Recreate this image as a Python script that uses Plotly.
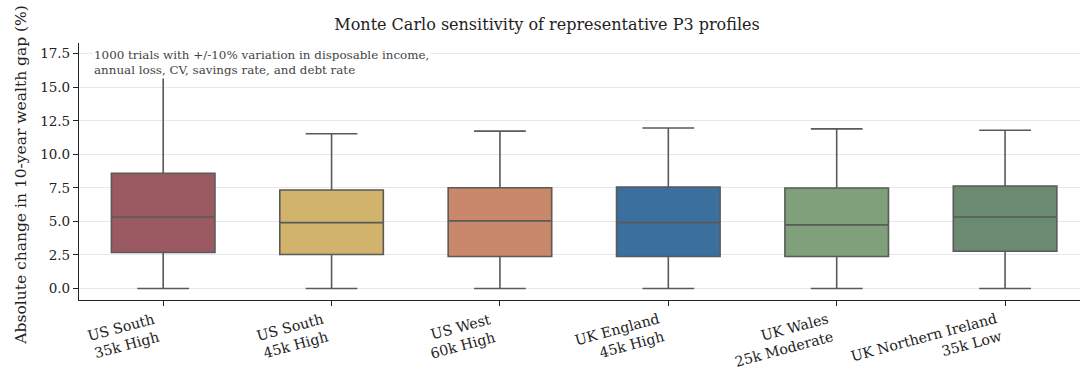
import plotly.graph_objects as go

# Profiles and Monte Carlo summary statistics (absolute change in 10-year wealth gap, %)
profiles = [
    "US South<br>35k High",
    "US South<br>45k High",
    "US West<br>60k High",
    "UK England<br>45k High",
    "UK Wales<br>25k Moderate",
    "UK Northern Ireland<br>35k Low",
]
lower_whisker = [0.0, 0.0, 0.0, 0.0, 0.0, 0.0]
q1 = [2.68, 2.53, 2.38, 2.38, 2.38, 2.78]
median = [5.33, 4.91, 5.04, 4.91, 4.74, 5.33]
q3 = [8.59, 7.34, 7.51, 7.57, 7.49, 7.64]
upper_whisker = [17.4, 11.53, 11.73, 11.96, 11.9, 11.8]
y_ticks = [0, 2.5, 5, 7.5, 10, 12.5, 15, 17.5]

colors = ["#9b5962", "#d1b36b", "#c9886a", "#3b6f9e", "#7fa07a", "#6a8a72"]
edge = "#5a5a5a"
ink = "#222222"
font_family = "DejaVu Serif"

fig = go.Figure()
for i, name in enumerate(profiles):
    fig.add_trace(go.Box(
        x=[name],
        q1=[q1[i]],
        median=[median[i]],
        q3=[q3[i]],
        lowerfence=[lower_whisker[i]],
        upperfence=[upper_whisker[i]],
        fillcolor=colors[i],
        line=dict(color=edge, width=1.6),
        width=0.615,
        whiskerwidth=0.5,
        boxpoints=False,
        showlegend=False,
        hoverinfo="skip",
    ))

# Rotated, right-aligned category labels under each tick
for name in profiles:
    fig.add_annotation(
        text=name,
        x=name, xref="x",
        y=0, yref="paper",
        xanchor="right", yanchor="top",
        yshift=-8,
        textangle=-15,
        align="right",
        showarrow=False,
        font=dict(family=font_family, size=14.2, color=ink),
    )

# Y-axis label
fig.add_annotation(
    text="Absolute change in 10-year wealth gap (%)",
    xref="paper", yref="paper",
    x=(21 - 78.5) / 1001.5, y=0.486,
    xanchor="center", yanchor="middle",
    textangle=-90,
    showarrow=False,
    font=dict(family=font_family, size=15.5, color=ink),
)

# Note on the simulation setup
fig.add_annotation(
    text="1000 trials with +/-10% variation in disposable income,<br>annual loss, CV, savings rate, and debt rate",
    xref="paper", yref="paper",
    x=0.0125, y=0.988,
    xanchor="left", yanchor="top",
    align="left",
    showarrow=False,
    font=dict(family=font_family, size=11.9, color="#444444"),
    bgcolor="white",
    borderpad=1,
)

fig.update_layout(
    width=1080, height=371,
    margin=dict(l=78.5, r=0, t=42.7, b=70.7),
    paper_bgcolor="white",
    plot_bgcolor="white",
    font=dict(family=font_family, size=13.5, color=ink),
    title=dict(
        text="Monte Carlo sensitivity of representative P3 profiles",
        xref="container", yref="container",
        x=547 / 1080, y=1 - 24 / 371,
        xanchor="center", yanchor="middle",
        font=dict(family=font_family, size=16, color=ink),
    ),
    boxmode="overlay",
)

fig.update_xaxes(
    type="category",
    categoryorder="array",
    categoryarray=profiles,
    range=[-0.5, 5.445],
    showline=True, linecolor=ink, linewidth=1.2,
    ticks="outside", ticklen=5, tickcolor=ink,
    showticklabels=False,
    showgrid=False,
    automargin=False,
)

fig.update_yaxes(
    range=[-0.86, 18.3],
    tickvals=y_ticks,
    tickformat=".1f",
    showline=True, linecolor=ink, linewidth=1.2,
    ticks="outside", ticklen=5, tickcolor=ink,
    showgrid=True, gridcolor="#e8e8e8", gridwidth=1,
    zeroline=False,
    tickfont=dict(family=font_family, size=13.5, color=ink),
    automargin=False,
)

fig.write_html("out.html")
